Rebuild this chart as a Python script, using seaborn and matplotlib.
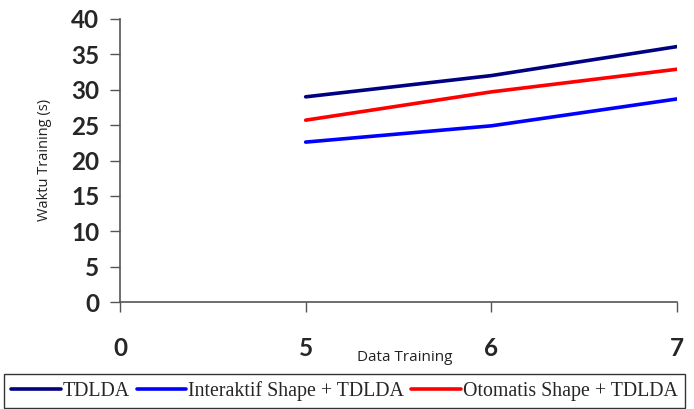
import pandas as pd
import matplotlib.pyplot as plt
import seaborn as sns

# data
x_labels = ["0", "5", "6", "7"]
x_data = [1, 2, 3]  # positions of 5, 6, 7 on the axis
tdlda = [29.0, 32.0, 36.1]
interaktif = [22.6, 24.9, 28.7]
otomatis = [25.7, 29.7, 32.9]
series = ["TDLDA", "Interaktif Shape + TDLDA", "Otomatis Shape + TDLDA"]
colors = ["#000080", "#0000FF", "#FF0000"]

df = pd.DataFrame({
    "x": x_data * 3,
    "y": tdlda + interaktif + otomatis,
    "series": [s for s in series for _ in x_data],
})

sns.set_style("white")
fig = plt.figure(figsize=(6.94, 4.09), dpi=100)
ax = fig.add_axes([120 / 694, 1 - 302 / 409, (677 - 120) / 694, (302 - 19) / 409])

sns.lineplot(data=df, x="x", y="y", hue="series", hue_order=series,
             palette=colors, linewidth=2.6, ax=ax, legend=False)

ax.set_xlim(0, 3)
ax.set_ylim(0, 40)
ax.set_xticks(range(len(x_labels)))
ax.set_xticklabels(x_labels)
ax.set_yticks(range(0, 41, 5))

for lbl in ax.get_xticklabels() + ax.get_yticklabels():
    lbl.set_fontfamily("Lato")
    lbl.set_fontweight("bold")
    lbl.set_fontsize(17.5)

ax.tick_params(axis="x", direction="out", length=7, width=1, color="#555555", pad=18, bottom=True)
ax.tick_params(axis="y", direction="out", length=7, width=1, color="#555555", pad=8, left=True)

for side in ["top", "right"]:
    ax.spines[side].set_visible(False)
for side in ["left", "bottom"]:
    ax.spines[side].set_color("#555555")
    ax.spines[side].set_linewidth(1.2)

ax.set_xlabel("Data Training", fontsize=11, family="Open Sans", color="#222222")
ax.xaxis.set_label_coords((405 - 120) / (677 - 120), -(350 - 302) / (302 - 19))
ax.set_ylabel("Waktu Training (s)", fontsize=10.5, family="Open Sans", color="#222222")
ax.yaxis.set_label_coords(-(120 - 52) / (677 - 120), (302 - 160) / (302 - 19))

handles = [plt.Line2D([], [], color=c, linewidth=2.6) for c in colors]
leg = fig.legend(handles, series, loc="upper left", ncol=3,
                 bbox_to_anchor=(4 / 694, 1 - 374 / 409),
                 frameon=True, fancybox=False, edgecolor="black",
                 prop={"family": "Liberation Serif", "size": 14.3},
                 handlelength=2.5, handletextpad=0.1, columnspacing=0.35,
                 borderaxespad=0, borderpad=0.35)
leg.get_frame().set_linewidth(1.0)

plt.savefig("out.png", dpi=100, facecolor="white")
